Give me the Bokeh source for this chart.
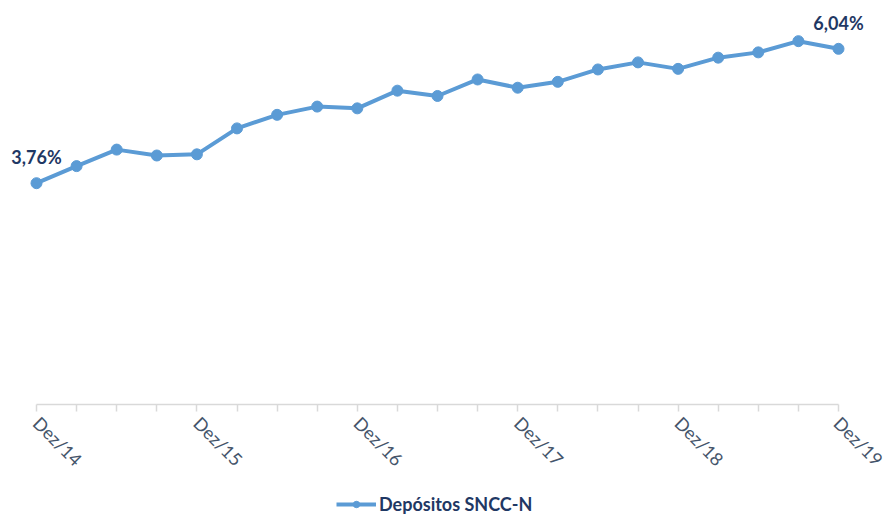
import math
from bokeh.plotting import figure
from bokeh.models import ColumnDataSource, FixedTicker, Legend, LegendItem, Range1d
from bokeh.core.properties import value
from bokeh.embed import file_html
from bokeh.resources import INLINE

periods = ["Dez/14", "Mar/15", "Jun/15", "Set/15", "Dez/15", "Mar/16", "Jun/16", "Set/16",
           "Dez/16", "Mar/17", "Jun/17", "Set/17", "Dez/17", "Mar/18", "Jun/18", "Set/18",
           "Dez/18", "Mar/19", "Jun/19", "Set/19", "Dez/19"]
depositos = [3.76, 4.05, 4.33, 4.23, 4.25, 4.69, 4.92, 5.06, 5.03, 5.33, 5.24, 5.52,
             5.38, 5.48, 5.69, 5.81, 5.70, 5.89, 5.98, 6.17, 6.04]
series_name = "Depósitos SNCC-N"
shown_labels = ["Dez/14", "Dez/15", "Dez/16", "Dez/17", "Dez/18", "Dez/19"]

xs = list(range(len(periods)))
src = ColumnDataSource(dict(x=xs, y=depositos))

lab_idx = [0, len(depositos) - 1]
lab_src = ColumnDataSource(dict(
    x=[xs[i] for i in lab_idx],
    y=[depositos[i] for i in lab_idx],
    t=[("%.2f%%" % depositos[i]).replace(".", ",") for i in lab_idx],
))

BLUE = "#5B9BD5"
NAVY = "#1F3864"

n = len(periods)
W, H = 887, 515
step_px = 802 / (n - 1)
x_start = -36 / step_px
x_end = (n - 1) + (W - 36 - 802) / step_px
px_per_unit = 404.3 / 6.86
y_start = -(H - 404.3) / px_per_unit

p = figure(frame_width=W, frame_height=H, output_backend="svg", toolbar_location=None,
           x_range=Range1d(x_start, x_end), y_range=Range1d(y_start, 6.86),
           min_border_left=0, min_border_right=0, min_border_top=0, min_border_bottom=0)
p.outline_line_color = None
p.grid.visible = False
p.yaxis.visible = False
p.background_fill_color = "white"
p.border_fill_color = "white"

line = p.line("x", "y", source=src, line_color=BLUE, line_width=4)
circ = p.scatter("x", "y", source=src, size=11, fill_color=BLUE, line_color=BLUE)

p.text("x", "y", text="t", source=lab_src, text_align="center", text_baseline="middle",
       y_offset=-26, text_font=value("Lato"), text_font_style="bold",
       text_font_size="18px", text_color=NAVY)

ax = p.xaxis[0]
ax.fixed_location = 0
ax.bounds = (0, n - 1)
ax.ticker = FixedTicker(ticks=xs)
ax.major_label_overrides = {i: (periods[i] if periods[i] in shown_labels else "") for i in xs}
ax.major_label_orientation = -math.pi / 4
ax.major_label_text_font = "Lato"
ax.major_label_text_font_size = "18px"
ax.major_label_text_color = "#44546A"
ax.axis_line_color = "#D9D9D9"
ax.axis_line_width = 1.5
ax.major_tick_line_color = "#D9D9D9"
ax.major_tick_line_width = 1.5
ax.major_tick_out = 7
ax.major_tick_in = 0
ax.minor_tick_line_color = None
ax.major_label_standoff = 8

legend = Legend(items=[LegendItem(label=series_name, renderers=[line, circ])],
                location=(336, 0), orientation="horizontal",
                border_line_color=None, background_fill_alpha=0,
                label_text_font="Lato", label_text_font_style="bold",
                label_text_font_size="18px", label_text_color=NAVY,
                glyph_width=40, glyph_height=16, label_standoff=3, padding=1, margin=0)
p.add_layout(legend, "center")

open("out.html", "w").write(file_html(p, INLINE))
